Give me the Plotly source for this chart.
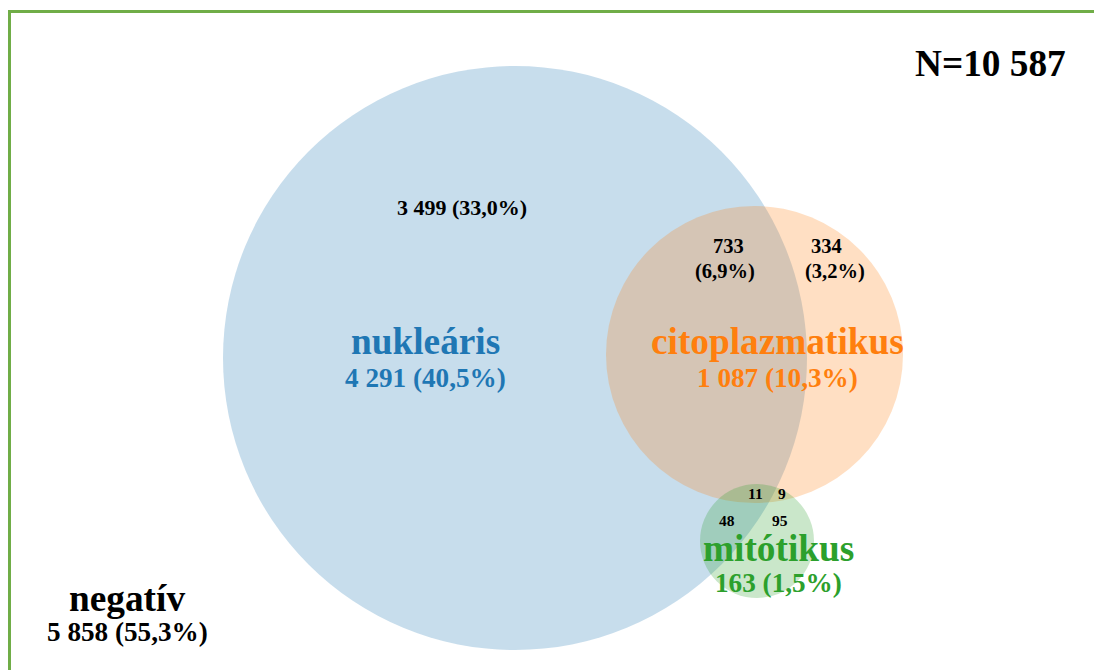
import plotly.graph_objects as go

# ---- data ----
N_TOTAL = "10 587"
set_names = ["nukleáris", "citoplazmatikus", "mitótikus", "negatív"]
set_counts = ["4 291", "1 087", "163", "5 858"]
set_pcts = ["40,5%", "10,3%", "1,5%", "55,3%"]
set_colors = ["#1F77B4", "#FF7F0E", "#2CA02C", "#000000"]

region_names = ["csak nukleáris", "nukleáris+citoplazmatikus", "csak citoplazmatikus",
                "nukl.+cito.+mitótikus", "cito.+mitótikus", "nukl.+mitótikus", "csak mitótikus"]
region_counts = ["3 499", "733", "334", "11", "9", "48", "95"]
region_pcts = ["33,0%", "6,9%", "3,2%", None, None, None, None]

# ---- geometry (pixel layout of the drawing) ----
W, H = 1094, 670
circles = {  # center x, center y, radius
    "nukleáris": (515, 358, 292),
    "citoplazmatikus": (754.5, 354.5, 148.5),
    "mitótikus": (757, 541, 57),
}
fills = {
    "nukleáris": "rgba(31,119,180,0.25)",
    "citoplazmatikus": "rgba(255,127,14,0.25)",
    "mitótikus": "rgba(44,160,44,0.25)",
}
FONT = "Liberation Serif, Times New Roman, serif"

fig = go.Figure()
fig.add_trace(go.Scatter(x=[0, W], y=[0, H], mode="markers",
                         marker=dict(opacity=0), hoverinfo="skip", showlegend=False))

for name, (cx, cy, r) in circles.items():
    fig.add_shape(type="circle", xref="x", yref="y", x0=cx - r, x1=cx + r, y0=cy - r, y1=cy + r,
                  fillcolor=fills[name], line=dict(width=0), layer="below")

# border
fig.add_shape(type="rect", xref="x", yref="y", x0=9.5, y0=11.5, x1=W + 20, y1=H + 20,
              line=dict(color="#70AD47", width=3), fillcolor="rgba(0,0,0,0)")


def txt(x, y, s, size, color="#000000"):
    fig.add_annotation(x=x, y=y, xref="x", yref="y", text=s, showarrow=False,
                       font=dict(family=FONT, size=size, color=color, weight="bold"),
                       xanchor="center", yanchor="middle")


# set labels
label_pos = [(425, 341, 378), (777, 341, 378), (778, 548, 583), (127, 598, 632)]
for (x, y1, y2), nm, c, p, col in zip(label_pos, set_names, set_counts, set_pcts, set_colors):
    txt(x, y1, nm, 37.3, col)
    txt(x, y2, f"{c} ({p})", 27.2, col)

# region labels
txt(462, 207, f"{region_counts[0]} ({region_pcts[0]})", 22)
txt(728, 246, region_counts[1], 20.5)
txt(725, 271, f"({region_pcts[1]})", 20.5)
txt(826, 246, region_counts[2], 20.5)
txt(835, 271, f"({region_pcts[2]})", 20.5)
small_pos = [(755, 493), (782, 493), (727, 520), (780, 520)]
for (x, y), c in zip(small_pos, region_counts[3:]):
    txt(x, y, c, 15.5)

txt(990, 63, f"N={N_TOTAL}", 37.3)

fig.update_xaxes(range=[0, W], visible=False, fixedrange=True)
fig.update_yaxes(range=[H, 0], visible=False, fixedrange=True)
fig.update_layout(width=W, height=H, margin=dict(l=0, r=0, t=0, b=0),
                  paper_bgcolor="white", plot_bgcolor="white", showlegend=False)

fig.write_html("out.html", config={"displayModeBar": False},
               post_script="document.body.style.margin='0';")
